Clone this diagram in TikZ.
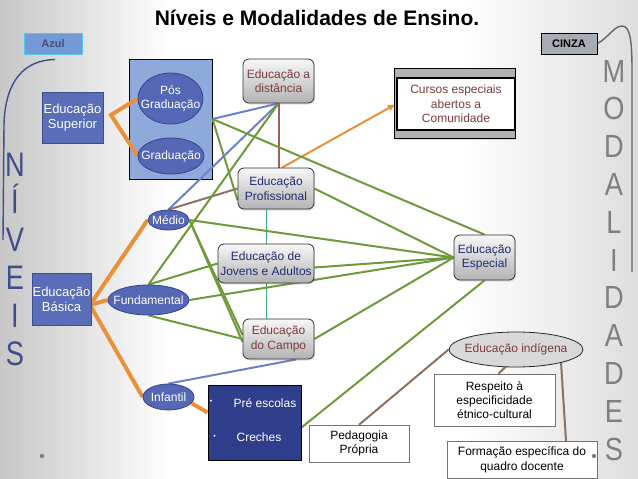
\documentclass[tikz,border=0pt]{standalone}
\usepackage{fontspec}
\setmainfont{Liberation Sans}
\usepackage{graphicx}
\usetikzlibrary{shapes.geometric,shadows,arrows.meta,calc}
\definecolor{lgreen}{HTML}{6E9A3A}
\definecolor{lblue}{HTML}{6D82C6}
\definecolor{lorange}{HTML}{E8913A}
\definecolor{lbrown}{HTML}{8C7262}
\definecolor{lmaroon}{HTML}{A25C5C}
\definecolor{lteal}{HTML}{3DB37E}
\definecolor{boxblue}{HTML}{5A6DB8}
\definecolor{boxblueb}{HTML}{3D4E8E}
\definecolor{ellblue}{HTML}{5567B5}
\definecolor{ellblueb}{HTML}{34448A}
\definecolor{contblue}{HTML}{8EAADB}
\definecolor{darkblue}{HTML}{2F3E8A}
\definecolor{navytext}{HTML}{1F2D6E}
\definecolor{browntext}{HTML}{7A3C3C}
\definecolor{niveis}{HTML}{3F4E8A}
\definecolor{modal}{HTML}{7F7F7F}
\definecolor{azulfill}{HTML}{7399D6}
\definecolor{azulborder}{HTML}{5CC3E6}
\definecolor{azultext}{HTML}{44507E}
\definecolor{cinzafill}{HTML}{A8ADB3}
\pgfdeclarelayer{bg}
\pgfdeclarelayer{lines}
\pgfsetlayers{bg,lines,main}
\newcommand\fsz[2]{\fontsize{#1}{#2}\selectfont}
\begin{document}
\begin{tikzpicture}[x=1pt,y=-1pt,
  gbox/.style={rectangle, rounded corners=6pt, draw=black!80, line width=0.8pt, top color=black!3, bottom color=black!30, align=center, inner sep=0pt, font=\fsz{12}{14.5}, drop shadow={opacity=0.25, shadow xshift=1pt, shadow yshift=-1.5pt}},
  bbox/.style={rectangle, fill=boxblue, draw=boxblueb, line width=1pt, text=white, align=center, inner sep=0pt, font=\fsz{13}{15}},
  ell/.style={ellipse, fill=ellblue, draw=ellblueb, line width=0.8pt, inner sep=0pt},
  etext/.style={text=white, align=center, font=\fsz{12}{14.5}, inner sep=0pt},
  wbox/.style={rectangle, draw=black!55, fill=white, align=center, inner sep=0pt, font=\fsz{12}{14}},
  gline/.style={draw=lgreen, line width=2pt},
  bline/.style={draw=lblue, line width=2pt},
  oline/.style={draw=lorange, line width=4pt},
  brline/.style={draw=lbrown, line width=2pt},
  bigletter/.style={anchor=base, inner sep=0pt},
]
\useasboundingbox (0,0) rectangle (638,479);
\begin{pgfonlayer}{bg}
\fill[white] (0,0) rectangle (638,479);
\shade[left color=black!22, right color=white] (0,0) rectangle (170,479);
\shade[left color=white, right color=black!13] (460,0) rectangle (638,479);
\node[rectangle, fill=contblue, draw=black, line width=1pt, minimum width=83pt, minimum height=120pt, inner sep=0pt] (cont) at (170.5,119) {};
\end{pgfonlayer}

% title
\node[anchor=base, font=\bfseries\fsz{21}{24}] (title) at (317,25) {Níveis e Modalidades de Ensino.};

% corner labels
\node[rectangle, fill=azulfill, draw=azulborder, line width=1pt, minimum width=58pt, minimum height=21pt, inner sep=0pt, text=azultext, font=\bfseries\fsz{11}{13}] (azul) at (53,43.5) {Azul};
\node[rectangle, fill=cinzafill, draw=black, line width=1pt, minimum width=56pt, minimum height=21pt, inner sep=0pt, font=\bfseries\fsz{11}{13}] (cinza) at (569,43.5) {CINZA};

% NIVEIS / MODALIDADES
\foreach \l/\yy [count=\i] in {N/176,Í/213.8,V/251.6,E/289.4,I/327.2,S/365}
  \node[bigletter, text=niveis, font=\fsz{34}{34}] (niv\i) at (15,\yy) {\scalebox{0.8}[1]{\l}};
\foreach \l [count=\i] in {M,O,D,A,L,I,D,A,D,E,S}
  \node[bigletter, text=modal, font=\fsz{32}{32}] (mod\i) at (614,{82+37.8*(\i-1)}) {\scalebox{0.85}[1]{\l}};
\coordinate (nivend) at (3,240);
\coordinate (modend) at (632,272);
\draw[niveis, line width=1.4pt] ([xshift=2pt,yshift=-5pt]azul.south) .. controls (25,60) and (5,80) .. (4,125) -- (nivend);
\draw[black!60, line width=1.4pt] (cinza.east) .. controls (608,38) and (614,26) .. (622,26) .. controls (630,26) and (632,40) .. (632,70) -- (modend);

% levels
\node[bbox, minimum width=61pt, minimum height=51pt] (sup) at (72.5,117.5) {Educação\\Superior};
\node[bbox, minimum width=59pt, minimum height=52pt] (bas) at (61.5,299) {Educação\\Básica};
\node[ell, minimum width=65pt, minimum height=51pt, label={[etext]center:Pós\\Graduação}] (pos) at (170.5,98.5) {};
\node[ell, minimum width=66pt, minimum height=36pt, label={[etext]center:Graduação}] (grad) at (171,156) {};
\node[ell, minimum width=41pt, minimum height=20pt, label={[etext]center:Médio}] (medio) at (168.5,220) {};
\node[ell, minimum width=81pt, minimum height=30pt, label={[etext]center:Fundamental}] (fund) at (148.5,300) {};
\node[ell, minimum width=51pt, minimum height=26pt, label={[etext]center:Infantil}] (inf) at (168.5,397) {};
\node[rectangle, fill=darkblue, draw=black, line width=1pt, minimum width=93pt, minimum height=75pt, inner sep=0pt] (pre) at (254.5,422.5) {};
\node[text=white, font=\fsz{7}{8}, inner sep=0pt] (bul1) at (211,402) {•};
\node[text=white, font=\fsz{7}{8}, inner sep=0pt] (bul2) at (214.5,437) {•};
\node[text=white, font=\fsz{12}{14}, inner sep=0pt] (pre1) at (265,403) {Pré escolas};
\node[text=white, font=\fsz{12}{14}, inner sep=0pt] (pre2) at (259,437) {Creches};

% modalities
\node[gbox, text=browntext, minimum width=71pt, minimum height=44pt] (ead) at (278.5,81) {Educação a\\distância};
\node[gbox, text=navytext, minimum width=76pt, minimum height=41pt] (prof) at (276,188.5) {Educação\\Profissional};
\node[gbox, text=navytext, minimum width=96pt, minimum height=39pt] (ja) at (266,263.5) {Educação de\\Jovens e Adultos};
\node[gbox, text=browntext, minimum width=71pt, minimum height=40pt] (campo) at (278.5,339) {Educação\\do Campo};
\node[gbox, text=navytext, minimum width=61pt, minimum height=45pt] (esp) at (484.5,257.5) {Educação\\Especial};
\node[rectangle, fill=black!30, draw=black, line width=0.8pt, minimum width=121pt, minimum height=70pt, inner sep=0pt, drop shadow={opacity=0.25, shadow xshift=1pt, shadow yshift=-1.5pt}] (curbg) at (454.5,103) {};
\node[rectangle, fill=white, draw=black, line width=2pt, minimum width=118pt, minimum height=52pt, inner sep=0pt, align=center, text=browntext, font=\fsz{12}{14.5}] (cur) at (456,104) {Cursos especiais\\abertos a\\Comunidade};
\node[ellipse, fill=black!15, draw=black!85, line width=0.8pt, minimum width=134pt, minimum height=35pt, inner sep=0pt, label={[text=browntext, font=\fsz{12}{14}]center:Educação indígena}] (ind) at (516,349.5) {};
\node[wbox, minimum width=121pt, minimum height=52pt] (resp) at (494.5,400) {Respeito à\\especificidade\\étnico-cultural};
\node[wbox, minimum width=150pt, minimum height=37pt, font=\fsz{12}{15}] (form) at (522,459.5) {Formação específica do\\quadro docente};
\node[wbox, minimum width=100pt, minimum height=37pt] (ped) at (359,443.5) {Pedagogia\\Própria};

\coordinate (supj) at (111,115);
\coordinate (basj) at (90,305);
\fill[black!50] (42,456) circle (2.2pt);
\fill[black!50] (594,456) circle (2.2pt);

\begin{pgfonlayer}{lines}
% orange
\draw[oline] (pos.west) -- (supj) -- (grad.west);
\draw[oline] (basj) -- (medio.west);
\draw[oline] (basj) -- (fund.west);
\draw[oline] (basj) -- (inf.west);
\draw[oline] ([yshift=10pt]pre.west) -- (inf.-15);
\draw[draw=lorange, line width=2pt, -{Latex[length=8pt,width=7pt]}] ([xshift=6pt]prof.north) -- (cur.west);
% maroon, teal
\draw[draw=lmaroon, line width=2pt] (ead.south) -- (ead.south |- prof.north);
\draw[draw=lteal, line width=1pt] (ja.north |- prof.south) -- (ja.north);
\draw[draw=lteal, line width=1pt] (ja.south) -- (ja.south |- campo.north);
% blue
\draw[bline] (cont.east) -- (ead.south);
\draw[bline] (medio.north) -- (ead.south);
\draw[bline] (inf.north) -- ([xshift=-18pt]campo.south east);
% brown
\draw[brline] (medio.north) -- (prof.west);
\draw[brline] (ind.west) -- (ped.north);
\draw[brline] ([xshift=-10pt,yshift=1pt]ind.south) -- ([xshift=4pt]resp.north);
\draw[brline] ([xshift=45pt,yshift=-12.5pt]ind.center) -- ([xshift=44pt]form.north);
% green
\draw[gline] (cont.east) -- (esp.north);
\draw[gline] (cont.east) -- ([yshift=9pt]prof.south west);
\draw[gline] (ead.south) -- (fund.north);
\draw[gline] (medio.east) -- (esp.west);
\draw[gline] (medio.east) -- ([yshift=4pt]campo.west);
\draw[gline] (medio.east) -- ([yshift=-3pt]campo.west);
\draw[gline] (fund.north) -- (ja.west);
\draw[gline] (fund.east) -- (esp.west);
\draw[gline] (fund.south) -- (campo.west);
\draw[gline] (prof.east) -- (esp.west);
\draw[gline] ([yshift=-4pt]ja.east) -- (esp.west);
\draw[gline] (campo.east) -- (esp.west);
\draw[gline] ([yshift=-5pt]pre.east) -- (esp.south);
\end{pgfonlayer}
\end{tikzpicture}
\end{document}
